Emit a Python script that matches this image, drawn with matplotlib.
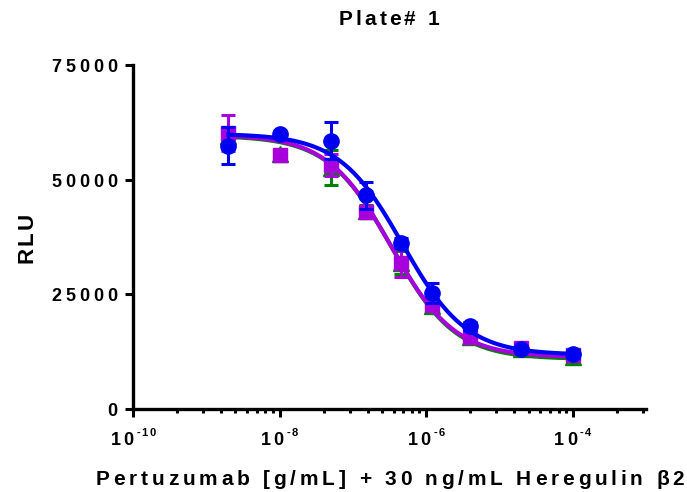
import numpy as np
import matplotlib
matplotlib.use('Agg')
import matplotlib.pyplot as plt
from matplotlib.font_manager import FontProperties, findfont
from matplotlib.ft2font import FT2Font
from matplotlib.transforms import IdentityTransform
from matplotlib.ticker import FixedLocator

# concentrations (g/mL)
conc = [2e-9, 1e-8, 5e-8, 1.5e-7, 4.5e-7, 1.2e-6, 4e-6, 2e-5, 1e-4]

# RLU means and SD for each replicate set
green_y = [59500, 55500, 52600, 43200, 31900, 22500, 15600, 13000, 11400]
green_err = [1500, 1000, 3800, 1200, 2500, 1000, 800, 600, 700]
purple_y = [60200, 55400, 53200, 43000, 31800, 22700, 15800, 13300, 11800]
purple_err = [3900, 1000, 2400, 1200, 3000, 1000, 800, 700, 900]
blue_y = [57400, 59900, 58500, 46600, 36200, 25300, 18100, 13000, 12000]
blue_err = [4000, 800, 4100, 2900, 1000, 2200, 900, 600, 900]

# four-parameter logistic fits: top, bottom, logEC50, hill slope
green_fit = [59600, 10900, -6.47, 1.0]
purple_fit = [59800, 11300, -6.48, 1.0]
blue_fit = [60000, 11800, -6.32, 1.0]

x_major = [1e-10, 1e-8, 1e-6, 1e-4]
x_major_exp = ['-10', '-8', '-6', '-4']
y_major = [0, 25000, 50000, 75000]
y_labels = ['0', '25000', '50000', '75000']

fig = plt.figure(figsize=(6.87, 4.92), dpi=100)
H = 492
ax = fig.add_axes([133 / 687, (H - 409) / H, (646 - 133) / 687, (409 - 65) / H])

FONT = findfont(FontProperties(family='Liberation Sans', weight='bold'))
FP_CACHE = {}


def fprop(size):
    if size not in FP_CACHE:
        FP_CACHE[size] = FontProperties(fname=FONT, size=size)
    return FP_CACHE[size]


def advances(s, size):
    ft = FT2Font(FONT)
    ft.set_size(size, 100)
    return [ft.load_char(ord(c)).linearHoriAdvance / 65536 for c in s]


def spaced(x, y, s, size, track, ha='center', rot=0, color='black'):
    # letter-spaced text, positioned in pixels
    adv = advances(s, size)
    total = sum(adv) + track * (len(s) - 1)
    off = {'left': 0, 'center': -total / 2, 'right': -total}[ha]
    c, sn = np.cos(np.radians(rot)), np.sin(np.radians(rot))
    for ch, a in zip(s, adv):
        if ch != ' ':
            fig.text(x + off * c, y + off * sn, ch, transform=IdentityTransform(),
                     fontproperties=fprop(size), rotation=rot,
                     rotation_mode='anchor', ha='left', va='baseline', color=color)
        off += a + track
    return total


def logistic(x, p):
    top, bottom, logec, hill = p
    return bottom + (top - bottom) / (1 + 10 ** ((np.log10(x) - logec) * hill))


xs = np.logspace(np.log10(conc[0]), np.log10(conc[-1]), 400)

series = [
    (green_y, green_err, green_fit, '#008000', '^', 11),
    (purple_y, purple_err, purple_fit, '#A800DC', 's', 10),
    (blue_y, blue_err, blue_fit, '#0000F0', 'o', 11),
]
for z, (yv, ye, fit, col, mk, ms) in enumerate(series):
    ax.plot(xs, logistic(xs, fit), color=col, lw=3, zorder=3 + z * 3, clip_on=False)
    ax.errorbar(conc, yv, yerr=ye, fmt='none', ecolor=col, elinewidth=2.2,
                capsize=5, capthick=2.2, zorder=4 + z * 3, clip_on=False)
    ax.plot(conc, yv, mk, color=col, ms=ms, mec=col, zorder=5 + z * 3, clip_on=False)

ax.set_xscale('log')
ax.set_xlim(1e-10, 1e-3)
ax.set_ylim(0, 75000)
ax.xaxis.set_major_locator(FixedLocator(x_major))
minor = [10.0 ** b * k ** 2 for b in (-10, -8, -6, -4) for k in range(2, 10)]
ax.xaxis.set_minor_locator(FixedLocator([m for m in minor if m < 1e-3]))
ax.yaxis.set_major_locator(FixedLocator(y_major))
ax.yaxis.set_minor_locator(FixedLocator([]))
ax.tick_params(axis='both', which='both', labelbottom=False, labelleft=False,
               direction='out', width=2.2, color='black')
ax.tick_params(axis='y', which='major', length=5.8)
ax.tick_params(axis='x', which='major', length=6)
ax.tick_params(axis='x', which='minor', length=3)
for side in ('top', 'right'):
    ax.spines[side].set_visible(False)
for side in ('left', 'bottom'):
    ax.spines[side].set_linewidth(2.4)

# y tick labels
for v, lab in zip(y_major, y_labels):
    py = ax.transData.transform((1e-10, v))[1]
    spaced(117, py - 7, lab, 13, 3.8, ha='right')

# x tick labels: 10 with superscript exponent
for v, e in zip(x_major, x_major_exp):
    px = ax.transData.transform((v, 0))[0]
    w1 = sum(advances('10', 13)) + 2.5
    w2 = sum(advances(e, 8)) + 1.5 * (len(e) - 1)
    gap = 3
    x0 = px - (w1 + gap + w2) / 2
    spaced(x0, H - 445, '10', 13, 2.5, ha='left')
    spaced(x0 + w1 + gap, H - 436, e, 8, 1.5, ha='left')

spaced(389, H - 25, 'Plate# 1', 15, 3.0)
spaced(390, H - 485, 'Pertuzumab [g/mL] + 30 ng/mL Heregulin β2', 15, 3.8)
spaced(33, H - 238, 'RLU', 16, 2.5, rot=90)

fig.savefig('out.png', dpi=100)
